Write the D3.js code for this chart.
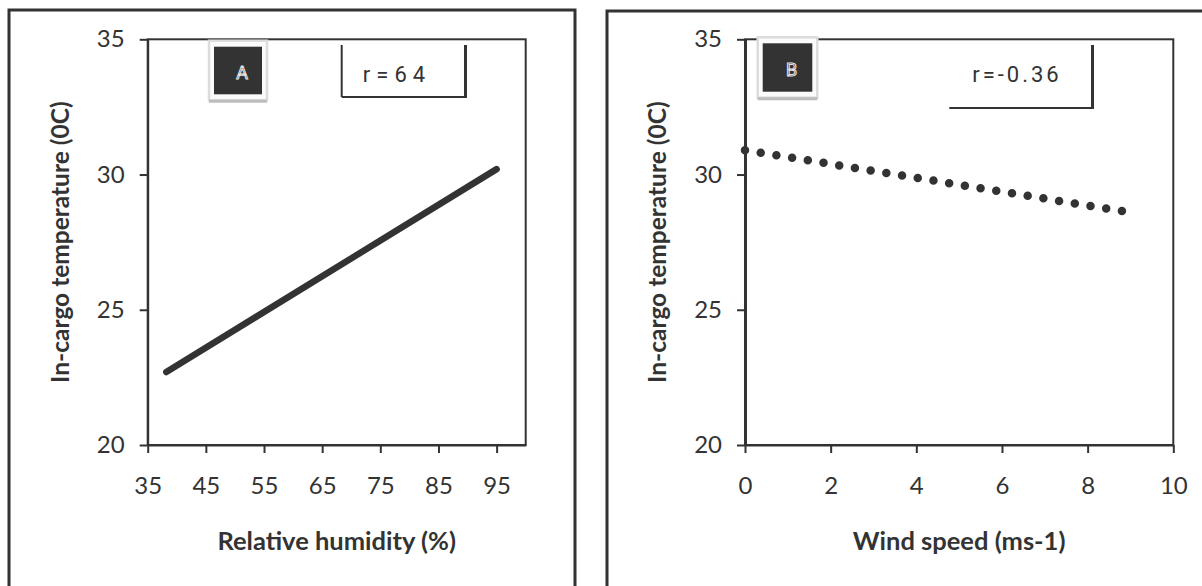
<!DOCTYPE html>
<html>
<head>
<meta charset="utf-8">
<script src="https://cdn.jsdelivr.net/npm/d3@7"></script>
<style>
  html, body { margin: 0; padding: 0; background: #fff; }
  svg { display: block; }
  text { font-family: Lato, "Open Sans", sans-serif; fill: #333; }
</style>
</head>
<body>
<svg id="chart" width="1202" height="586"></svg>
<script>
// Regression lines of in-cargo temperature (°C)
const yTicks = [20, 25, 30, 35];

// Panel A: relative humidity
const humidityTicks = [35, 45, 55, 65, 75, 85, 95];
const humidityFit = [38.2, 95];
const tempFitA = [22.7, 30.2];

// Panel B: wind speed
const windTicks = [0, 2, 4, 6, 8, 10];
const windFit = [0, 8.8];
const tempFitB = [30.9, 28.65];

const ink = "#333";
const svg = d3.select("#chart");

function panel(cfg) {
  const g = svg.append("g");

  // outer frame of the panel
  g.append("rect")
    .attr("x", cfg.frame[0]).attr("y", cfg.frame[1])
    .attr("width", cfg.frame[2]).attr("height", cfg.frame[3])
    .attr("fill", "none").attr("stroke", ink).attr("stroke-width", 3);

  const x = d3.scaleLinear().domain(cfg.xDomain).range([cfg.left, cfg.right]);
  const y = d3.scaleLinear().domain([20, 35]).range([cfg.bottom, cfg.top]);

  // plot area border
  g.append("rect")
    .attr("x", cfg.left).attr("y", cfg.top)
    .attr("width", cfg.right - cfg.left).attr("height", cfg.bottom - cfg.top)
    .attr("fill", "none").attr("stroke", ink).attr("stroke-width", 2);

  const yAxis = g.append("g")
    .attr("transform", `translate(${cfg.left},0)`)
    .call(d3.axisLeft(y).tickValues(yTicks).tickSize(8).tickSizeOuter(0).tickPadding(15));
  const xAxis = g.append("g")
    .attr("transform", `translate(0,${cfg.bottom})`)
    .call(d3.axisBottom(x).tickValues(cfg.xTicks).tickSize(8).tickSizeOuter(0).tickPadding(24));

  [yAxis, xAxis].forEach(a => {
    a.select(".domain").attr("stroke", ink).attr("stroke-width", cfg.axisWidth);
    a.selectAll(".tick line").attr("stroke", ink).attr("stroke-width", 2);
    a.selectAll(".tick text")
      .attr("fill", ink)
      .style("font-family", "Lato, sans-serif")
      .style("font-size", "24px");
  });
  xAxis.select(".domain").attr("stroke-width", 2);

  // axis titles
  g.append("text")
    .attr("x", (cfg.left + cfg.right) / 2).attr("y", 550)
    .attr("text-anchor", "middle")
    .style("font-size", "25.5px").style("font-weight", 700)
    .text(cfg.xTitle);
  g.append("text")
    .attr("transform", `translate(${cfg.left - 79},${(cfg.top + cfg.bottom) / 2}) rotate(-90)`)
    .attr("text-anchor", "middle")
    .style("font-size", "24.5px").style("font-weight", 700)
    .text("In-cargo temperature (0C)");

  // fitted line
  const pts = cfg.fitX.map((v, i) => [x(v), y(cfg.fitY[i])]);
  const path = g.append("path")
    .attr("d", d3.line()(pts))
    .attr("fill", "none")
    .attr("stroke", ink)
    .attr("stroke-linecap", "round")
    .attr("stroke-width", cfg.dotted ? 8.5 : 6.5);
  if (cfg.dotted) {
    const len = path.node().getTotalLength();
    path.attr("stroke-dasharray", `0 ${len / 24}`);
  }

  // panel letter badge
  const b = cfg.badge;
  g.append("rect")
    .attr("x", b[0] - 5).attr("y", b[1] - 6)
    .attr("width", b[2] + 10).attr("height", b[3] + 12)
    .attr("fill", "#fbfbfb").attr("stroke", "#dcdcdc").attr("stroke-width", 2.5);
  g.append("line")
    .attr("x1", b[0] - 5).attr("x2", b[0] + b[2] + 5)
    .attr("y1", b[1] + b[3] + 7).attr("y2", b[1] + b[3] + 7)
    .attr("stroke", "#bdbdbd").attr("stroke-width", 3);
  g.append("rect")
    .attr("x", b[0]).attr("y", b[1]).attr("width", b[2]).attr("height", b[3])
    .attr("fill", ink);
  g.append("text")
    .attr("x", b[0] + b[2] / 2 + 4).attr("y", b[1] + b[3] / 2 + 2)
    .attr("text-anchor", "middle").attr("dominant-baseline", "central")
    .style("font-family", "Roboto, sans-serif").style("font-size", "18px")
    .style("fill", ink).style("stroke", "#e6e6e6").style("stroke-width", 1)
    .text(cfg.letter);

  // correlation box
  const r = cfg.rBox;
  if (r.leftLine) {
    g.append("line").attr("x1", r.x0).attr("x2", r.x0).attr("y1", 45).attr("y2", r.y1)
      .attr("stroke", ink).attr("stroke-width", 2);
  }
  g.append("line").attr("x1", r.x1).attr("x2", r.x1).attr("y1", 45).attr("y2", r.y1 + 1)
    .attr("stroke", ink).attr("stroke-width", 3);
  g.append("line").attr("x1", r.x0).attr("x2", r.x1).attr("y1", r.y1).attr("y2", r.y1)
    .attr("stroke", ink).attr("stroke-width", 2);
  g.append("text")
    .attr("x", r.tx).attr("y", 74)
    .attr("text-anchor", "middle").attr("dominant-baseline", "central")
    .style("font-family", "Roboto, sans-serif").style("font-size", "22px")
    .style("letter-spacing", r.spacing + "px")
    .text(cfg.rText);
}

panel({
  frame: [9, 10, 566, 620],
  left: 147.7, right: 525.7, top: 39.3, bottom: 445,
  xDomain: [35, 100], xTicks: humidityTicks,
  xTitle: "Relative humidity (%)",
  fitX: humidityFit, fitY: tempFitA, dotted: false,
  axisWidth: 2,
  badge: [214, 46.7, 48, 47.6], letter: "A",
  rBox: { x0: 341.7, x1: 465.5, y1: 97, leftLine: true, tx: 397, spacing: 6 },
  rText: "r=64"
});

panel({
  frame: [607, 11, 640, 620],
  left: 745, right: 1173.3, top: 39.3, bottom: 445,
  xDomain: [0, 10], xTicks: windTicks,
  xTitle: "Wind speed (ms-1)",
  fitX: windFit, fitY: tempFitB, dotted: true,
  axisWidth: 3,
  badge: [762.7, 43.3, 49.6, 48.4], letter: "B",
  rBox: { x0: 949.3, x1: 1092.5, y1: 108, leftLine: false, tx: 1017, spacing: 3 },
  rText: "r=-0.36"
});
</script>
</body>
</html>
